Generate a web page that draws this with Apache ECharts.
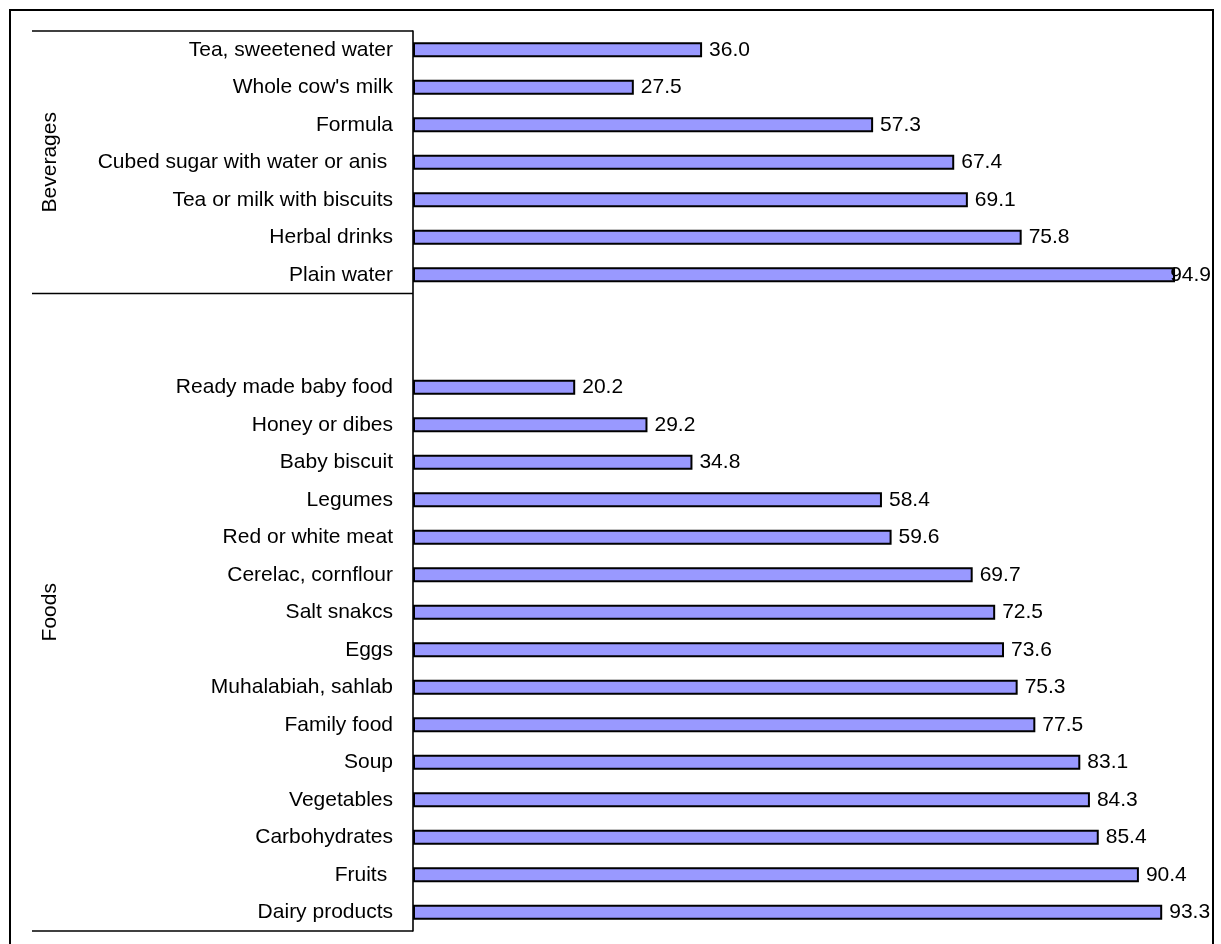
<!DOCTYPE html>
<html>
<head>
<meta charset="utf-8">
<script src="https://cdn.jsdelivr.net/npm/echarts@6/dist/echarts.min.js"></script>
<style>
  html, body { margin: 0; padding: 0; background: #fff; }
  #chart { width: 1221px; height: 944px; }
</style>
</head>
<body>
<div id="chart"></div>
<script>
// Percentages per item, listed top to bottom within each group
const beverageNames = [
  'Tea, sweetened water',
  "Whole cow's milk",
  'Formula',
  'Cubed sugar with water or anis ',
  'Tea or milk with biscuits',
  'Herbal drinks',
  'Plain water'
];
const beverageValues = [36.0, 27.5, 57.3, 67.4, 69.1, 75.8, 94.9];

const foodNames = [
  'Ready made baby food',
  'Honey or dibes',
  'Baby biscuit',
  'Legumes',
  'Red or white meat',
  'Cerelac, cornflour',
  'Salt snakcs',
  'Eggs',
  'Muhalabiah, sahlab',
  'Family food',
  'Soup',
  'Vegetables',
  'Carbohydrates',
  'Fruits ',
  'Dairy products'
];
const foodValues = [20.2, 29.2, 34.8, 58.4, 59.6, 69.7, 72.5, 73.6, 75.3, 77.5, 83.1, 84.3, 85.4, 90.4, 93.3];

const groupLabels = ['Beverages', 'Foods'];
const gapSlots = 2; // empty rows between the two groups

// One category axis holding both groups with a blank gap between them
const gapNames = Array.from({ length: gapSlots }, (_, i) => ' '.repeat(i + 1));
const categories = [...beverageNames, ...gapNames, ...foodNames];
const values = [...beverageValues, ...gapNames.map(() => null), ...foodValues];

const FONT = '"Liberation Sans", Arial, sans-serif';
const FONT_SIZE = 21;
const gridTop = 31, gridHeight = 900, gridLeft = 413, gridWidth = 803;
const slot = gridHeight / categories.length;
const rightLimit = 1211;

// Frame, bracket lines and rotated group titles on the left
const boundaries = [0, beverageNames.length, categories.length];
const graphics = [{
  type: 'rect',
  shape: { x: 10, y: 10, width: 1203, height: 960 },
  style: { fill: 'none', stroke: '#000', lineWidth: 2 },
  silent: true
}];
boundaries.forEach(k => {
  const y = gridTop + k * slot;
  graphics.push({
    type: 'line',
    shape: { x1: 32, y1: y, x2: gridLeft, y2: y },
    style: { stroke: '#000', lineWidth: 1.6 },
    silent: true
  });
});
const groupSpans = [[0, beverageNames.length], [beverageNames.length, categories.length]];
groupSpans.forEach(([a, b], i) => {
  graphics.push({
    type: 'text',
    x: 50,
    y: gridTop + (a + b) / 2 * slot,
    rotation: Math.PI / 2,
    style: {
      text: groupLabels[i],
      font: FONT_SIZE + 'px ' + FONT,
      fill: '#000',
      align: 'center',
      verticalAlign: 'middle'
    },
    silent: true
  });
});

const chart = echarts.init(document.getElementById('chart'), null, { renderer: 'canvas' });
chart.setOption({
  animation: false,
  backgroundColor: '#fff',
  grid: { left: gridLeft, top: gridTop, width: gridWidth, height: gridHeight, containLabel: false },
  xAxis: {
    type: 'value',
    min: 0,
    max: 100,
    show: false
  },
  yAxis: {
    type: 'category',
    data: categories,
    inverse: true,
    axisLine: { show: true, lineStyle: { color: '#000', width: 1.6 } },
    axisTick: { show: false },
    splitLine: { show: false },
    axisLabel: {
      margin: 20,
      color: '#000',
      fontSize: FONT_SIZE,
      fontFamily: FONT,
      interval: 0
    }
  },
  series: [{
    type: 'bar',
    data: values,
    barWidth: 15,
    itemStyle: { color: '#9999FF', borderColor: '#000', borderWidth: 2 },
    label: {
      show: true,
      position: 'right',
      distance: 7,
      color: '#000',
      fontSize: FONT_SIZE,
      fontFamily: FONT,
      formatter: p => p.value == null ? '' : Number(p.value).toFixed(1)
    },
    // keep value labels inside the chart frame
    labelLayout: params => {
      const r = params.labelRect;
      const over = r.x + r.width - rightLimit;
      return over > 0 ? { dx: -over } : {};
    }
  }],
  graphic: graphics
});
</script>
</body>
</html>
